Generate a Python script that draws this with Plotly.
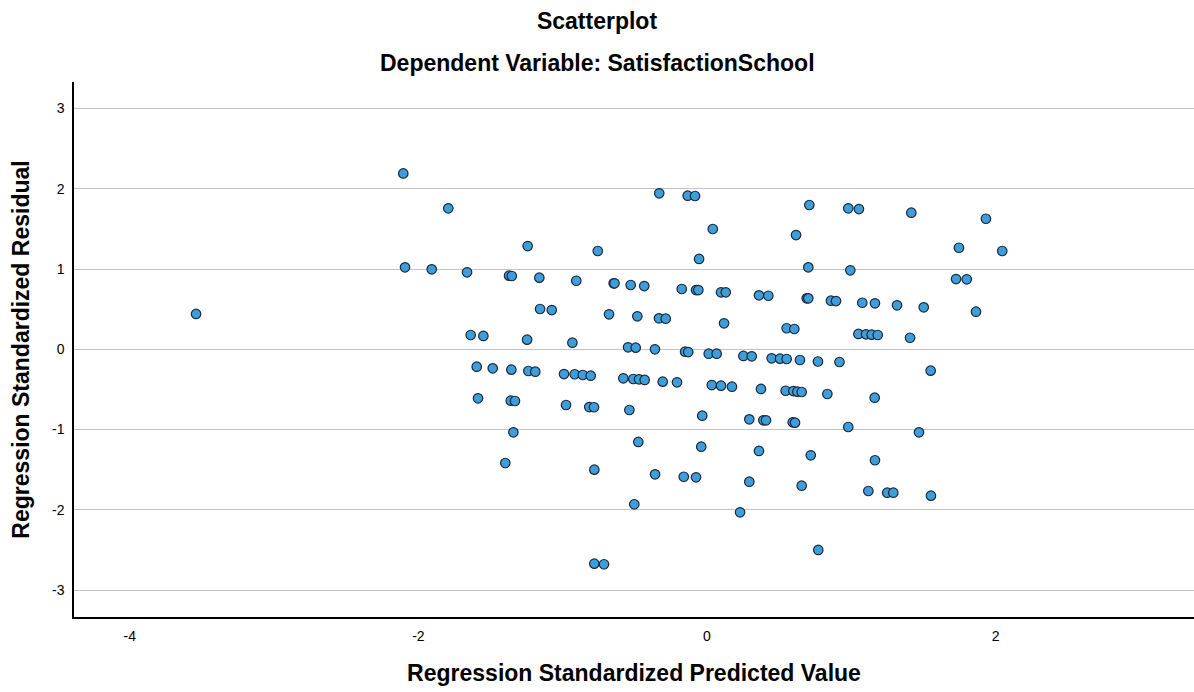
import plotly.graph_objects as go

predicted = [
    -2.105, -1.793, -2.093, -1.908, -3.541, -0.331, -0.134, -0.083, 0.709, 0.040,
    0.617, -1.243, -0.757, -0.055, 0.702, -1.663, -1.372, -1.353, -1.162, -0.906,
    -0.647, -0.641, -0.529, -0.435, -0.175, -0.076, -0.060, 0.097, 0.130, 0.360,
    0.425, 0.691, 0.702, -1.157, -1.076, -0.679, -0.483, -0.333, -0.286, 0.118,
    0.552, 0.605, -1.638, -1.550, -1.247, -0.933, -0.547, -0.494, -0.361, -0.152,
    -0.130, 0.012, 0.067, 0.252, 0.310, 0.448, 0.506, 0.552, 0.644, 0.769,
    0.918, 1.550, -1.596, -1.485, -1.356, -1.238, -1.190, -0.991, -0.917, -0.861,
    -0.806, -0.580, -0.511, -0.471, -0.432, -0.307, -0.208, 0.033, 0.097, 0.173,
    0.374, 0.545, 0.598, 0.626, 0.656, 0.834, 1.162, -1.587, -1.360, -1.331,
    -0.977, -0.816, -0.783, -0.538, -0.033, 0.293, 0.390, 0.409, 0.594, 0.610,
    0.979, 1.469, -1.342, -0.476, -0.040, 0.360, 0.719, 1.164, -1.398, -0.781,
    -0.360, -0.161, -0.076, 0.293, 0.656, 1.118, 1.249, 1.291, 1.552, -0.504,
    0.229, 0.771, -0.781, -0.714, 0.979, 1.053, 1.416, 1.933, 1.746, 2.046,
    0.993, 1.726, 1.800, 0.859, 0.894, 1.076, 1.164, 1.317, 1.502, 1.864,
    1.049, 1.102, 1.141, 1.183, 1.407,
]

residual = [
    2.190, 1.756, 1.021, 0.996, 0.440, 1.943, 1.913, 1.909, 1.797, 1.498,
    1.423, 1.286, 1.224, 1.125, 1.021, 0.959, 0.917, 0.913, 0.892, 0.854,
    0.822, 0.822, 0.801, 0.788, 0.751, 0.738, 0.738, 0.710, 0.710, 0.672,
    0.667, 0.635, 0.635, 0.502, 0.489, 0.436, 0.411, 0.386, 0.381, 0.324,
    0.262, 0.253, 0.178, 0.166, 0.120, 0.082, 0.025, 0.020, 0.000, -0.030,
    -0.034, -0.055, -0.055, -0.083, -0.087, -0.112, -0.117, -0.121, -0.133, -0.152,
    -0.158, -0.266, -0.217, -0.237, -0.254, -0.270, -0.279, -0.308, -0.311, -0.320,
    -0.329, -0.361, -0.370, -0.374, -0.382, -0.403, -0.411, -0.445, -0.453, -0.466,
    -0.494, -0.516, -0.520, -0.528, -0.532, -0.557, -0.603, -0.610, -0.640, -0.644,
    -0.694, -0.719, -0.722, -0.756, -0.827, -0.872, -0.884, -0.884, -0.909, -0.914,
    -0.968, -1.034, -1.034, -1.154, -1.213, -1.266, -1.320, -1.382, -1.416, -1.499,
    -1.557, -1.587, -1.594, -1.649, -1.699, -1.765, -1.786, -1.786, -1.823, -1.930,
    -2.030, -2.499, -2.670, -2.677, 1.756, 1.747, 1.701, 1.626, 1.265, 1.224,
    0.984, 0.875, 0.872, 0.605, 0.601, 0.580, 0.573, 0.548, 0.523, 0.468,
    0.191, 0.187, 0.182, 0.178, 0.144,
]

x_ticks = [-4, -2, 0, 2]
y_ticks = [-3, -2, -1, 0, 1, 2, 3]

FONT = "Liberation Sans, Arial, sans-serif"
TITLE_SIZE = 23
TICK_SIZE = 14

fig = go.Figure()
fig.add_trace(go.Scatter(
    x=predicted, y=residual, mode="markers",
    marker=dict(size=9.5, color="rgb(62,158,218)",
                line=dict(color="rgb(25,40,60)", width=1.2)),
    showlegend=False, hoverinfo="x+y",
))

L, R, T, B = 74, 0, 82, 75
W, H = 1194, 692
title_x_paper = (W / 2 - L) / (W - L - R)

fig.update_layout(
    width=W, height=H,
    margin=dict(l=L, r=R, t=T, b=B),
    paper_bgcolor="white", plot_bgcolor="white",
    font=dict(family=FONT, color="black"),
    title=dict(text="<b>Scatterplot</b>", x=0.5, xref="container", xanchor="center",
               y=1 - 21 / H, yref="container", yanchor="middle",
               font=dict(size=TITLE_SIZE, family=FONT, color="black")),
    annotations=[dict(text="<b>Dependent Variable: SatisfactionSchool</b>",
                      xref="paper", yref="paper", x=title_x_paper, y=1 + (T - 63) / (H - T - B),
                      xanchor="center", yanchor="middle", showarrow=False,
                      font=dict(size=TITLE_SIZE, family=FONT, color="black"))],
    xaxis=dict(range=[-4.387, 3.375], tickvals=x_ticks, ticktext=[str(v) for v in x_ticks],
               showgrid=False, zeroline=False, showline=True, linecolor="black", linewidth=1.5,
               ticks="", tickfont=dict(size=TICK_SIZE, family=FONT, color="black"),
               ticklabelstandoff=5,
               title=dict(text="<b>Regression Standardized Predicted Value</b>",
                          font=dict(size=TITLE_SIZE, family=FONT, color="black"), standoff=22)),
    yaxis=dict(range=[-3.334, 3.329], tickvals=y_ticks, ticktext=[str(v) for v in y_ticks],
               showgrid=True, gridcolor="rgb(195,195,195)", gridwidth=1.3,
               zeroline=False, showline=True, linecolor="black", linewidth=1.5,
               ticks="", tickfont=dict(size=TICK_SIZE, family=FONT, color="black"),
               ticklabelstandoff=5,
               title=dict(text="<b>Regression Standardized Residual</b>",
                          font=dict(size=TITLE_SIZE, family=FONT, color="black"), standoff=16)),
)

fig.write_html("out.html")
